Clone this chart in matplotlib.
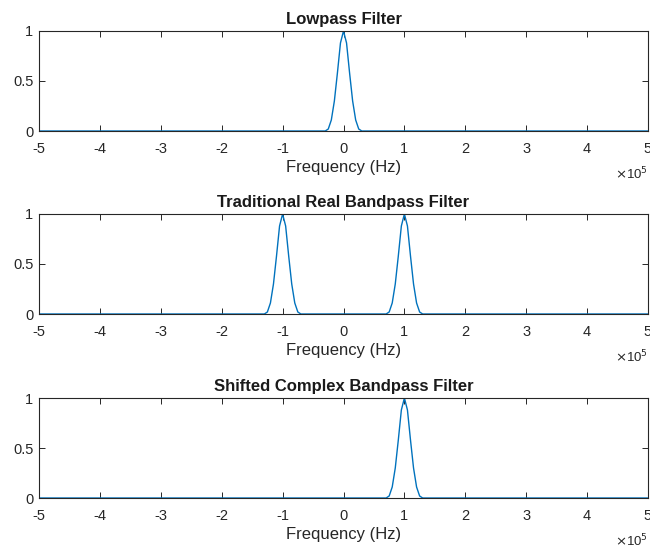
import numpy as np
import matplotlib
matplotlib.use("Agg")
import matplotlib.pyplot as plt
from matplotlib.ticker import FuncFormatter

plt.rcParams['font.family'] = ['Liberation Sans', 'DejaVu Sans']
plt.rcParams['axes.unicode_minus'] = False

# pulse shape around each passband centre (offset in Hz, magnitude)
pulse_offset = [-0.30e5, -0.25e5, -0.20e5, -0.15e5, -0.10e5, -0.05e5, 0.0,
                0.05e5, 0.10e5, 0.15e5, 0.20e5, 0.25e5, 0.30e5]
pulse_mag = [0.0, 0.02, 0.11, 0.30, 0.58, 0.88, 1.0,
             0.88, 0.58, 0.30, 0.11, 0.02, 0.0]

titles = ['Lowpass Filter', 'Traditional Real Bandpass Filter',
          'Shifted Complex Bandpass Filter']
centres = [[0.0], [-1e5, 1e5], [1e5]]
f_min, f_max = -5e5, 5e5
xticks = [-5e5, -4e5, -3e5, -2e5, -1e5, 0, 1e5, 2e5, 3e5, 4e5, 5e5]
yticks = [0, 0.5, 1]

line_col = '#0072BD'
axis_col = '#262626'


def response(cs):
    f = [f_min]
    m = [0.0]
    for c in cs:
        f += [c + o for o in pulse_offset]
        m += pulse_mag
    f.append(f_max)
    m.append(0.0)
    return np.array(f), np.array(m)


fig = plt.figure(figsize=(6.5, 5.52), dpi=100)
W, H = 650, 552
left, right = 39, 648
tops = [31, 214, 398]
ht = 100

for title, cs, top in zip(titles, centres, tops):
    ax = fig.add_axes([left / W, 1 - (top + ht) / H, (right - left) / W, ht / H])
    f, m = response(cs)
    ax.plot(f, m, color=line_col, lw=1.0)
    ax.set_xlim(f_min, f_max)
    ax.set_ylim(0, 1)
    ax.set_xticks(xticks)
    ax.set_yticks(yticks)
    ax.xaxis.set_major_formatter(FuncFormatter(lambda v, p: '%g' % (v / 1e5)))
    ax.yaxis.set_major_formatter(FuncFormatter(lambda v, p: '%g' % v))
    ax.tick_params(direction='in', length=4, width=0.7, top=True, right=True,
                   colors=axis_col, labelsize=10.5)
    ax.tick_params(axis='x', pad=8)
    ax.tick_params(axis='y', pad=4)
    for s in ax.spines.values():
        s.set_color(axis_col)
        s.set_linewidth(0.8)
    ax.set_title(title, fontsize=12, fontweight='bold', color='#1a1a1a', pad=5)
    ax.set_xlabel('Frequency (Hz)', fontsize=12, color=axis_col, labelpad=3)
    ax.text(1.0, -0.43, r'$\times$10$^5$', transform=ax.transAxes,
            ha='right', va='center', fontsize=9.5, color=axis_col)

fig.savefig('out.png', dpi=100)
